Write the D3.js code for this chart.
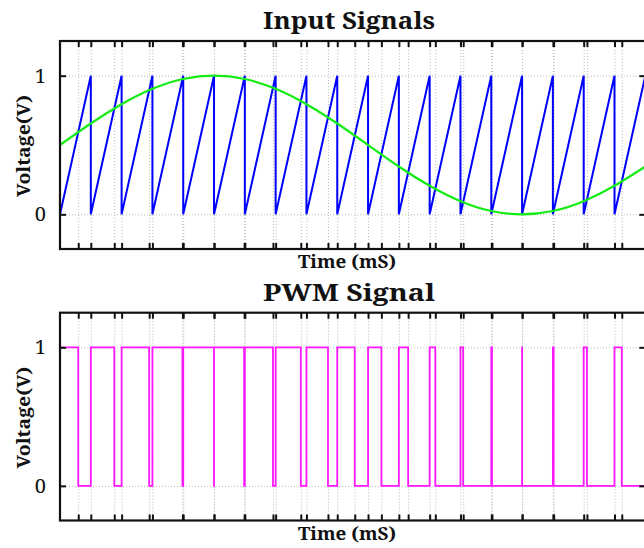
<!DOCTYPE html>
<html lang="en">
<head>
	<meta charset="utf-8">
	<title>PWM chart</title>
	<script type="text/javascript" src="https://cdn.jsdelivr.net/npm/d3@7"></script>
	<style type="text/css">
		body {
			margin: 0;
			background: #fff;
		}
		svg text {
			font-family: 'Noto Serif', 'Liberation Serif', serif;
			fill: #111;
		}
		.grid line {
			stroke: #bbb;
			stroke-width: 1;
			stroke-dasharray: 1,2;
		}
		.ticks line {
			stroke: #111;
			stroke-width: 2;
		}
	</style>
</head>
<body>
	<div id='viz'></div>
	<script type="text/javascript">
	const WIDTH = 644;
	const HEIGHT = 548;

	// time is in sawtooth periods, voltage in V
	var sawTime = [0,1,1,2,2,3,3,4,4,5,5,6,6,7,7,8,8,9,9,10,10,11,11,12,12,13,13,14,14,15,15,16,16,17,17,18,18,19];
	var sawVolt = [0,1,0,1,0,1,0,1,0,1,0,1,0,1,0,1,0,1,0,1,0,1,0,1,0,1,0,1,0,1,0,1,0,1,0,1,0,1];

	var sineTime = [0,1,2,3,4,5,6,7,8,9,10,11,12,13,14,15,16,17,18,19];
	var sineVolt = [0.500,0.655,0.794,0.905,0.976,1.000,0.976,0.905,0.794,0.655,
	                0.500,0.345,0.206,0.095,0.024,0.000,0.024,0.095,0.206,0.345];

	// PWM goes high at each rise and low at each fall
	var pwmRise = [0,1,2,3,4,5,6,7,8,9,10,11,12,13,14,15,16,17,18];
	var pwmFall = [0.592,1.762,2.894,3.974,4.999,5.977,6.913,7.817,8.699,9.567,
	               10.433,11.301,12.183,13.088,14.023,15.001,16.025,17.105,18.237];
	var pwmEnd = 19;

	var yTicks = [0, 1];
	var yTickLabels = ['0', '1'];

	var xDomain = [0, 19];
	var yDomain = [-0.25, 1.25];

	var svg = d3.select('#viz').append('svg')
		.attr('width', WIDTH)
		.attr('height', HEIGHT);

	var x = d3.scaleLinear().domain(xDomain).range([60, 645.3]);

	// tick marks sit on every PWM edge
	var xTicks = pwmRise.slice(1).concat(pwmFall).sort(d3.ascending);

	function panel(top, bottom, title, series)
	{
		var y = d3.scaleLinear().domain(yDomain).range([bottom, top]);
		var g = svg.append('g');
		var left = x.range()[0], right = x.range()[1];

		// dotted grid
		g.append('g').attr('class', 'grid')
			.attr('transform', 'translate(0,' + bottom + ')')
			.call(d3.axisBottom(x).tickValues(xTicks).tickSize(-(bottom - top)).tickFormat(''))
			.call(function(s) { s.select('.domain').remove(); });
		g.append('g').attr('class', 'grid')
			.attr('transform', 'translate(' + left + ',0)')
			.call(d3.axisLeft(y).tickValues(yTicks).tickSize(-(right - left)).tickFormat(''))
			.call(function(s) { s.select('.domain').remove(); });

		series.forEach(function(s) {
			var line = d3.line()
				.x(function(d) { return x(d[0]); })
				.y(function(d) { return y(d[1]); })
				.curve(s.curve || d3.curveLinear);
			g.append('path')
				.datum(s.data)
				.attr('d', line)
				.attr('fill', 'none')
				.attr('stroke', s.color)
				.attr('stroke-width', s.width);
		});

		// ticks, all pointing inward
		var axes = [
			[d3.axisBottom(x).tickValues(xTicks).tickFormat(''), 0, bottom],
			[d3.axisTop(x).tickValues(xTicks).tickFormat(''), 0, top],
			[d3.axisRight(y).tickValues(yTicks).tickFormat(''), right, 0]
		];
		axes.forEach(function(a) {
			g.append('g').attr('class', 'ticks')
				.attr('transform', 'translate(' + a[1] + ',' + a[2] + ')')
				.call(a[0].tickSize(-6))
				.call(function(s) { s.select('.domain').remove(); });
		});
		var yl = g.append('g').attr('class', 'ticks')
			.attr('transform', 'translate(' + left + ',0)')
			.call(d3.axisLeft(y).tickValues(yTicks).tickSize(-6).tickPadding(14)
				.tickFormat(function(d, i) { return yTickLabels[i]; }));
		yl.select('.domain').remove();
		yl.selectAll('text')
			.style('font-size', '20px')
			.style('font-family', "'Noto Serif', serif")
			.attr('fill', '#111');

		g.append('rect')
			.attr('x', left).attr('y', top)
			.attr('width', right - left).attr('height', bottom - top)
			.attr('fill', 'none')
			.attr('stroke', '#111')
			.attr('stroke-width', 2.2);

		g.append('text')
			.attr('x', 349).attr('y', top - 12)
			.attr('text-anchor', 'middle')
			.attr('font-weight', 'bold')
			.attr('font-size', 23)
			.attr('textLength', 172).attr('lengthAdjust', 'spacingAndGlyphs')
			.text(title);

		g.append('text')
			.attr('x', 347).attr('y', bottom + 19)
			.attr('text-anchor', 'middle')
			.attr('font-weight', 'bold')
			.attr('font-size', 18.5)
			.attr('textLength', 98).attr('lengthAdjust', 'spacingAndGlyphs')
			.text('Time (mS)');

		var cy = (top + bottom) / 2 + 1;
		g.append('text')
			.attr('transform', 'translate(30,' + cy + ') rotate(-90)')
			.attr('text-anchor', 'middle')
			.attr('font-weight', 'bold')
			.attr('font-size', 18.5)
			.attr('textLength', 102).attr('lengthAdjust', 'spacingAndGlyphs')
			.text('Voltage(V)');
	}

	var sawData = sawTime.map(function(t, i) { return [t, sawVolt[i]]; });
	var sineData = sineTime.map(function(t, i) { return [t, sineVolt[i]]; });

	var pwmData = [];
	pwmRise.forEach(function(t, i) {
		pwmData.push([t, 1]);
		pwmData.push([pwmFall[i], 0]);
	});
	pwmData.push([pwmEnd, 0]);

	panel(41, 249, 'Input Signals', [
		{data: sawData, color: '#0000ff', width: 2},
		{data: sineData, color: '#14ec14', width: 2.2, curve: d3.curveNatural}
	]);

	panel(312.7, 520.5, 'PWM Signal', [
		{data: pwmData, color: '#ff18ff', width: 1.8, curve: d3.curveStepAfter}
	]);
	</script>
</body>
</html>
